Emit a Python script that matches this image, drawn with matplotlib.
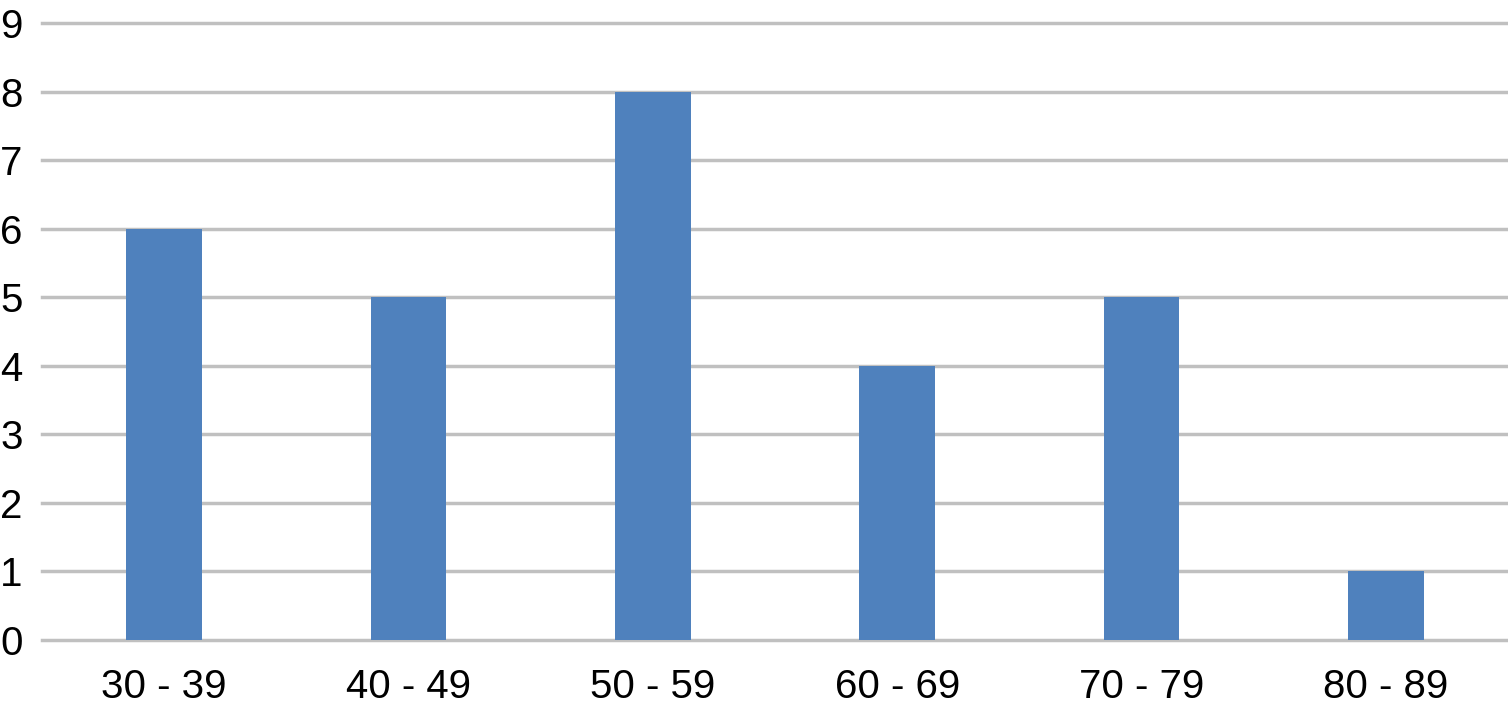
import matplotlib.pyplot as plt

categories = ["30 - 39", "40 - 49", "50 - 59", "60 - 69", "70 - 79", "80 - 89"]
counts = [6, 5, 8, 4, 5, 1]
y_ticks = list(range(0, 10))

plt.rcParams['font.family'] = ['Liberation Sans', 'DejaVu Sans']

fig = plt.figure(figsize=(15.08, 7.06), dpi=100)
ax = fig.add_axes([42 / 1508, 1 - 640 / 706, 1 - 42 / 1508, (640 - 23) / 706])

x = range(len(categories))
ax.bar(x, counts, width=0.31, color='#4F81BD', zorder=2)

ax.set_xlim(-0.5, len(categories) - 0.5)
ax.set_ylim(0, 9)
ax.set_yticks(y_ticks)
ax.set_xticks(list(x))
ax.set_xticklabels(categories)

# light grey horizontal gridlines only, no frame
ax.grid(axis='y', color='#c0c0c0', linewidth=2.5, zorder=0)
for gl in ax.get_ygridlines():
    gl.set_clip_on(False)
ax.set_axisbelow(True)
for s in ax.spines.values():
    s.set_visible(False)
ax.tick_params(axis='both', length=0, labelsize=29)
ax.tick_params(axis='y', pad=14)
ax.tick_params(axis='x', pad=20)

fig.savefig("out.png", dpi=100)
